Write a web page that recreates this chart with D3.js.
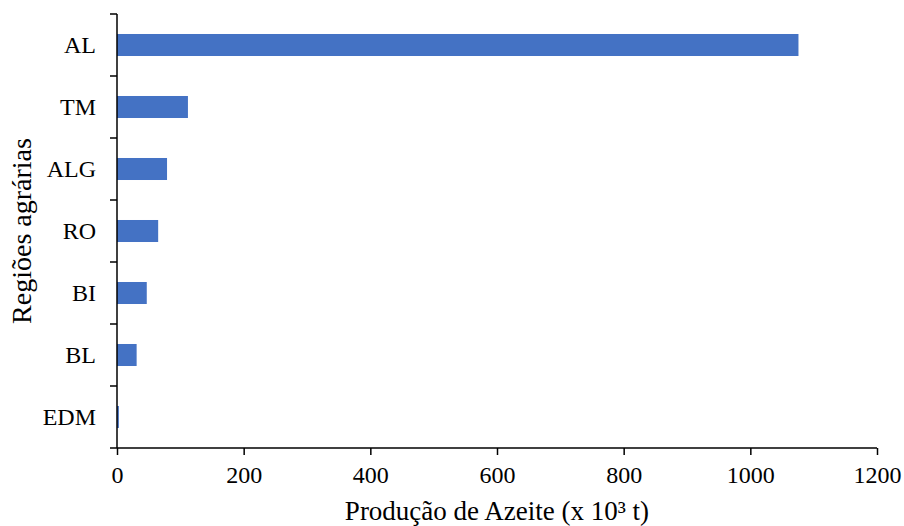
<!DOCTYPE html>
<html><head><meta charset="utf-8">
<script src="https://cdn.jsdelivr.net/npm/d3@7"></script>
<style>body{margin:0;background:#fff}svg{display:block}text{font-family:"Liberation Serif","Times New Roman",serif;fill:#000}</style>
</head><body>
<script>
const categories = ["AL","TM","ALG","RO","BI","BL","EDM"];
const values = [1076, 112, 79, 65, 47, 31, 3];
const xTicks = [0,200,400,600,800,1000,1200];
const xTitle = "Produção de Azeite (x 10³ t)";
const yTitle = "Regiões agrárias";

const W=904,H=526;
const m={left:117,right:27,top:14,bottom:78};
const svg=d3.select("body").append("svg").attr("width",W).attr("height",H);
const x=d3.scaleLinear().domain([0,1200]).range([m.left,W-m.right]);
const y=d3.scaleBand().domain(categories).range([m.top,H-m.bottom]).paddingInner(0.645).paddingOuter(0.3225);

svg.append("g").selectAll("rect").data(categories).join("rect")
 .attr("x",x(0)).attr("y",d=>y(d)).attr("height",y.bandwidth())
 .attr("width",(d,i)=>x(values[i])-x(0)).attr("fill","#4472C4");

// y axis
const step=y.step();
const bounds=d3.range(categories.length+1).map(i=>m.top+i*step);
const ya=svg.append("g");
ya.append("line").attr("x1",x(0)).attr("x2",x(0)).attr("y1",m.top).attr("y2",H-m.bottom).attr("stroke","#000").attr("stroke-width",1.5);
ya.selectAll("line.t").data(bounds).join("line").attr("class","t").attr("x1",x(0)-7).attr("x2",x(0)).attr("y1",d=>d).attr("y2",d=>d).attr("stroke","#000").attr("stroke-width",1.5);
ya.selectAll("text").data(categories).join("text").attr("x",96).attr("y",d=>y(d)+y.bandwidth()/2).attr("dy","0.34em").attr("text-anchor","end").attr("font-size",24).text(d=>d);

// x axis
const xa=svg.append("g").attr("transform",`translate(0,${H-m.bottom})`)
 .call(d3.axisBottom(x).tickValues(xTicks).tickSize(7).tickFormat(d3.format("d")));
xa.select(".domain").attr("stroke","#000").attr("stroke-width",1.5).attr("d",`M${x(0)},0H${x(1200)}`);
xa.selectAll(".tick line").attr("stroke","#000").attr("stroke-width",1.5);
xa.selectAll(".tick text").attr("font-size",24).attr("font-family","Liberation Serif").attr("y",35).attr("dy",0);

svg.append("text").attr("x",(x(0)+x(1200))/2).attr("y",520).attr("text-anchor","middle").attr("font-size",27).text(xTitle);
svg.append("text").attr("transform",`translate(31,${(m.top+H-m.bottom)/2}) rotate(-90)`).attr("text-anchor","middle").attr("font-size",28).text(yTitle);
</script>
</body></html>
